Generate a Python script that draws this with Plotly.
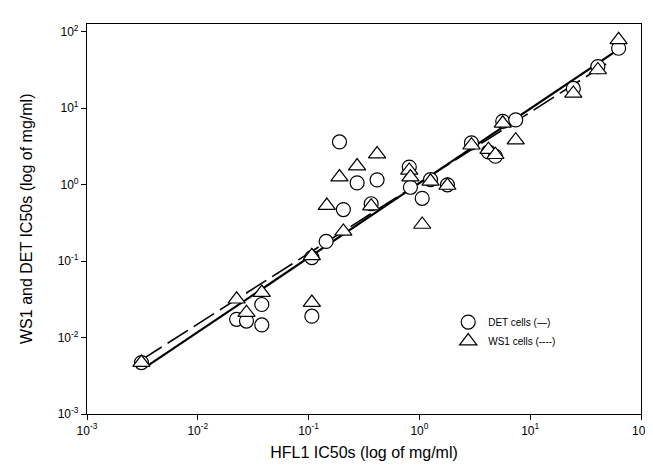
import plotly.graph_objects as go

# DET cells (circles)
det_x = [0.0031, 0.0224, 0.0275, 0.0378, 0.0378, 0.107, 0.107, 0.144, 0.19, 0.206,
         0.274, 0.367, 0.415, 0.81, 0.83, 1.06, 1.26, 1.79, 2.95, 4.2,
         4.85, 5.65, 7.4, 24.5, 40.8, 62.8]
det_y = [0.0047, 0.0173, 0.0164, 0.027, 0.0146, 0.111, 0.019, 0.18, 3.6, 0.47,
         1.05, 0.56, 1.15, 1.69, 0.92, 0.66, 1.16, 0.99, 3.5, 2.66,
         2.34, 6.7, 7.0, 18.0, 34.8, 60.4]

# WS1 cells (triangles)
ws1_x = [0.0031, 0.0224, 0.0275, 0.0378, 0.107, 0.107, 0.146, 0.19, 0.206, 0.274,
         0.367, 0.415, 0.81, 0.83, 1.06, 1.26, 1.79, 2.95, 4.2, 4.85,
         5.65, 7.4, 24.5, 40.8, 62.8]
ws1_y = [0.0047, 0.0316, 0.0211, 0.0387, 0.117, 0.0286, 0.53, 1.25, 0.244, 1.74,
         0.52, 2.5, 1.53, 1.25, 0.30, 1.1, 0.97, 3.26, 2.85, 2.45,
         6.3, 3.8, 15.5, 31.4, 77.8]

# regression line end points
det_fit_x = [0.0033, 58.0]
det_fit_y = [0.0040, 54.3]
ws1_fit_x = [0.0031, 53.0]
ws1_fit_y = [0.0051, 41.0]

tick_vals = [0.001, 0.01, 0.1, 1, 10, 100]
tick_text = ["10<sup>-3</sup>", "10<sup>-2</sup>", "10<sup>-1</sup>",
             "10<sup>0</sup>", "10<sup>1</sup>", "10<sup>2</sup>"]

legend_names = ["DET cells (\u2014)", "WS1 cells (----)"]
x_title = "HFL1 IC50s (log of mg/ml)"
y_title = "WS1 and DET IC50s (log of mg/ml)"

FONT = "Liberation Sans, Arial, sans-serif"

fig = go.Figure()
fig.add_trace(go.Scatter(x=ws1_fit_x, y=ws1_fit_y, mode="lines",
                         line=dict(color="black", width=1.6, dash="24px,7px"),
                         showlegend=False, hoverinfo="skip"))
fig.add_trace(go.Scatter(x=det_fit_x, y=det_fit_y, mode="lines",
                         line=dict(color="black", width=2.2),
                         showlegend=False, hoverinfo="skip"))
fig.add_trace(go.Scatter(x=det_x, y=det_y, mode="markers", name=legend_names[0],
                         marker=dict(symbol="circle", size=14, color="white",
                                     line=dict(color="black", width=1.2))))
fig.add_trace(go.Scatter(x=ws1_x, y=ws1_y, mode="markers", name=legend_names[1],
                         marker=dict(symbol="triangle-up", size=15, color="white",
                                     line=dict(color="black", width=1.2))))

axis_common = dict(type="log", tickmode="array", tickvals=tick_vals, ticktext=tick_text,
                   showgrid=False, zeroline=False, showline=True, linecolor="black",
                   linewidth=1.2, mirror=True, ticks="outside", ticklen=5, tickcolor="black",
                   tickfont=dict(family=FONT, size=12, color="black"))

fig.update_xaxes(range=[-3, 2], title=dict(text=x_title, standoff=10,
                 font=dict(family=FONT, size=16, color="black")),
                 **axis_common)
fig.update_yaxes(range=[-3, 2.098], **axis_common)

fig.add_annotation(text=y_title, xref="paper", yref="paper",
                   x=-(79 - 17) / 563, y=0.5, xanchor="center", yanchor="middle",
                   textangle=-90, showarrow=False,
                   font=dict(family=FONT, size=16, color="black"))

fig.update_layout(
    width=653, height=467,
    margin=dict(l=79, r=11, t=16, b=61),
    paper_bgcolor="white", plot_bgcolor="white",
    legend=dict(x=0.652, y=0.273, xanchor="left", yanchor="top",
                bgcolor="rgba(0,0,0,0)", borderwidth=0,
                font=dict(family=FONT, size=10, color="black"),
                itemsizing="trace", tracegroupgap=0),
)

fig.write_html("out.html")
